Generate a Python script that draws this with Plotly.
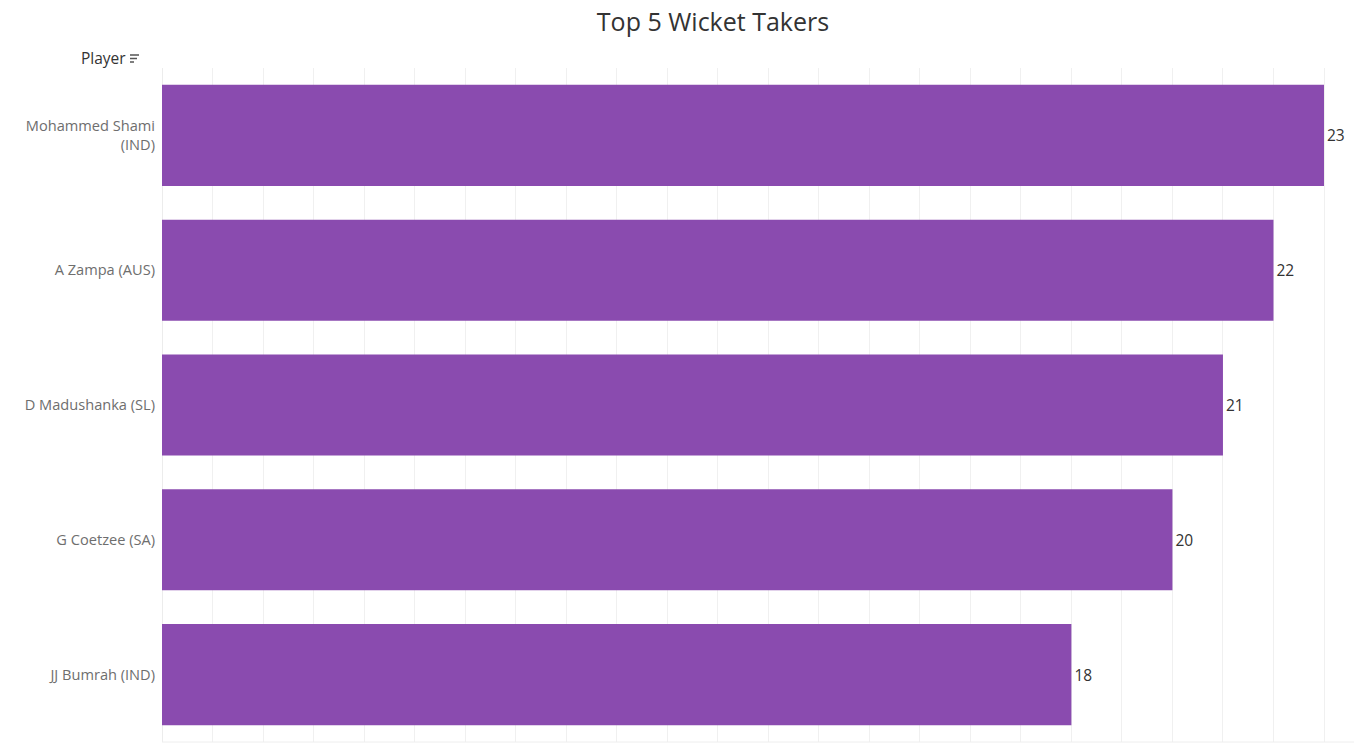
import plotly.graph_objects as go

players = ["Mohammed Shami<br>(IND)", "A Zampa (AUS)", "D Madushanka (SL)", "G Coetzee (SA)", "JJ Bumrah (IND)"]
wickets = [23, 22, 21, 20, 18]
title_text = "Top 5 Wicket Takers"
header_text = "Player"

W, H = 1358, 752
L, R, T, B = 162, 1354, 68, 742
xmax = 23 * (R - L) / (1324 - 162)
FONT = "Open Sans, Noto Sans, sans-serif"

fig = go.Figure(go.Bar(
    x=wickets, y=players, orientation="h",
    marker=dict(color="#8A4BAF", line=dict(width=0)),
    width=0.75,
    text=[str(v) for v in wickets], textposition="outside",
    textfont=dict(family=FONT, size=15.5, color="#333333"),
    cliponaxis=False, hoverinfo="skip",
))

fig.update_layout(
    width=W, height=H, autosize=False,
    margin=dict(l=L, r=W - R, t=T, b=H - B, pad=0),
    plot_bgcolor="white", paper_bgcolor="white",
    showlegend=False, bargap=0.25,
    title=dict(text=title_text, x=713 / W, xanchor="center", y=1 - 22 / H, yanchor="middle",
               font=dict(family=FONT, size=25, color="#333333")),
    xaxis=dict(range=[0, xmax], dtick=1, tick0=0, showticklabels=False, showgrid=True,
               gridcolor="#f0f0f0", gridwidth=1, zeroline=True, zerolinecolor="#ececec",
               zerolinewidth=1, showline=False, fixedrange=True),
    yaxis=dict(autorange="reversed", showgrid=False, zeroline=False, showline=False,
               ticks="", ticklabelstandoff=6,
               tickfont=dict(family=FONT, size=14.6, color="#6e6e6e")),
    font=dict(family=FONT),
)

# bottom border line
fig.add_shape(type="line", xref="paper", yref="paper", x0=0, x1=1, y0=0, y1=0,
              line=dict(color="#eeeeee", width=1))

# header "Player" with sort icon
fig.add_annotation(text=header_text, xref="paper", yref="paper",
                   x=(127.5 - L) / (R - L), y=1 + (T - 58) / (B - T), xanchor="right", yanchor="middle",
                   showarrow=False, font=dict(family=FONT, size=15.5, color="#333333"))
px_x = lambda p: (p - L) / (R - L)
px_y = lambda p: 1 - (p - T) / (B - T)
for yy, x1 in [(55, 139), (58.5, 137), (62, 134)]:
    fig.add_shape(type="line", xref="paper", yref="paper",
                  x0=px_x(130), x1=px_x(x1), y0=px_y(yy), y1=px_y(yy),
                  line=dict(color="#555555", width=1.5))

fig.write_html("out.html")
